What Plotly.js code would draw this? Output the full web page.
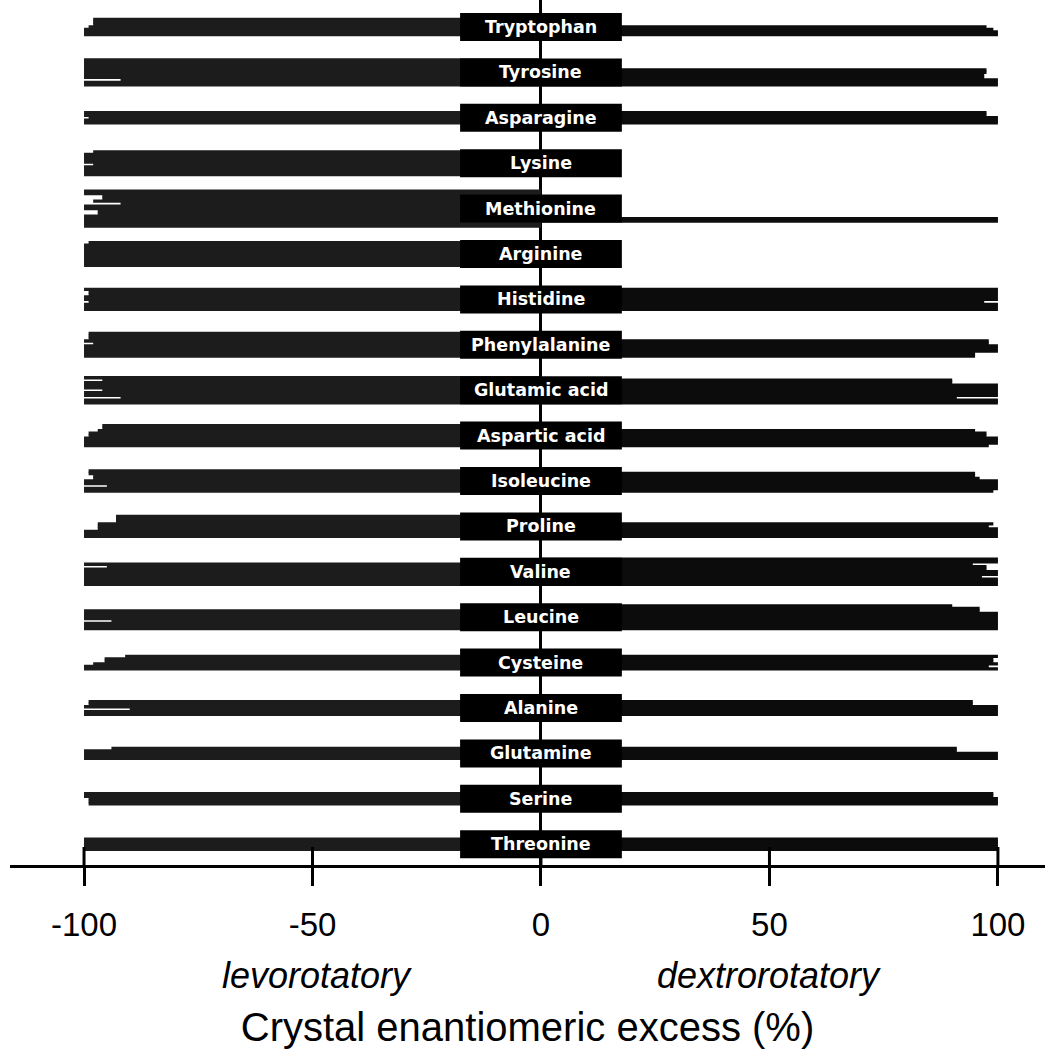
<!DOCTYPE html>
<html><head><meta charset="utf-8">
<script src="https://cdn.plot.ly/plotly-3.0.1.min.js"></script>
<style>html,body{margin:0;padding:0;background:#fff}#chart{width:1059px;height:1049px}</style>
</head><body><div id="chart"></div>
<script>
// ---- data (one bar per crystal, top to bottom within each amino acid) ----
const aminoAcids = ["Tryptophan","Tyrosine","Asparagine","Lysine","Methionine","Arginine",
  "Histidine","Phenylalanine","Glutamic acid","Aspartic acid","Isoleucine","Proline",
  "Valine","Leucine","Cysteine","Alanine","Glutamine","Serine","Threonine"];

const trpL = [-98,-98,-98,-99,-100,-100,-100];
const trpR = [97.5,99,100,100];
const tyrL = [-100,-100,-100,-100,-100,-100,-100,-100,-92,-100,-100];
const tyrR = [97.5,97.5,97,97,100,100,100];
const asnL = [-100,-100,-99,-100,-100];
const asnR = [97.5,97.5,100,100,100];
const lysL = [-98,-100,-100,-100,-100,-98,-100,-100,-100,-100];
const lysR = [];
const metL = [-100,-100,-96,-96,-98,-92,-100,-100,-97,-97,-100,-100,-100,-100,-100];
const metR = [100,100,null,null];
const argL = [-99,-100,-100,-100,-100,-100,-100,-100,-100,-100];
const argR = [];
const hisL = [-100,-99,-99,-100,-100,-99,-100,-100,-100];
const hisR = [100,100,100,100,100,97,100,100,100];
const pheL = [-99,-99,-99,-100,-98,-100,-100,-100,-100,-100];
const pheR = [98,98,100,100,100,95,95];
const gluL = [-100,-96,-100,-100,-100,-96,-100,-100,-92,-100,-100];
const gluR = [90,90,100,100,100,100,100,91,100,100];
const aspL = [-96,-96,-97,-99,-99,-100,-100,-100,-100];
const aspR = [95,97.5,97.5,100,100,100,98];
const ileL = [-99,-99,-98,-98,-100,-100,-95,-100,-100];
const ileR = [95,95,96,100,100,100,100,99];
const proL = [-93,-93,-93,-97,-97,-97,-100,-100,-100];
const proR = [99,98,100,100,100,100];
const valL = [-100,-95,-100,-100,-100,-100,-100,-100,-100];
const valR = [100,100,94.5,97.5,97.5,100,100,96.5,100,100,100];
const leuL = [-100,-100,-100,-100,-94,-100,-100,-100];
const leuR = [90,96,96,100,100,100,100,100,100,100];
const cysL = [-91,-95.5,-95.5,-98,-100,-100];
const cysR = [100,99,99,100,98,100];
const alaL = [-99,-99,-100,-90,-100,-100];
const alaR = [94.5,94.5,100,100,100,100];
const glnL = [-94,-100,-100,-100,-100];
const glnR = [91,91,100,100,100];
const serL = [-100,-100,-99,-99,-99];
const serR = [99,99,100,100,100];
const thrL = [-100,-100,-100,-100,-100];
const thrR = [100,100,100,100,100];

const levo   = [trpL,tyrL,asnL,lysL,metL,argL,hisL,pheL,gluL,aspL,ileL,proL,valL,leuL,cysL,alaL,glnL,serL,thrL];
const dextro = [trpR,tyrR,asnR,lysR,metR,argR,hisR,pheR,gluR,aspR,ileR,proR,valR,leuR,cysR,alaR,glnR,serR,thrR];

const tickVals = [-100,-50,0,50,100];
const tickText = ["-100","-50","0","50","100"];
const sideLabels = ["levorotatory","dextrorotatory"];
const sideLabelX = [-49,50];
const axisTitle = "Crystal enantiomeric excess (%)";

// ---- layout constants (style) ----
const TOP = 27, STEP = 45.4, ROWH = 2.5, PLOT_H = 865, TICK_LEN = 18;
const BOX_HALF_W = 17.7, BOX_H = 28;

const yL=[], xL=[], yR=[], xR=[];
const shapes = [], annotations = [];
aminoAcids.forEach((name,i)=>{
  const c = TOP + i*STEP;
  const n = Math.max(levo[i].length, dextro[i].length);
  const bottom = c + n*ROWH/2;
  levo[i].forEach((v,j)=>{ xL.push(v); yL.push(bottom - (levo[i].length - j - 0.5)*ROWH); });
  dextro[i].forEach((v,j)=>{ xR.push(v); yR.push(bottom - (dextro[i].length - j - 0.5)*ROWH); });
  shapes.push({type:'rect', xref:'x', yref:'y', x0:-BOX_HALF_W, x1:BOX_HALF_W,
    y0:c-BOX_H/2, y1:c+BOX_H/2, fillcolor:'#000', line:{width:0}, layer:'above'});
  annotations.push({x:0, y:c, xref:'x', yref:'y', text:name, showarrow:false,
    xanchor:'center', yanchor:'middle',
    font:{family:'DejaVu Sans, sans-serif', size:17.5, color:'#fff', weight:'bold'}});
});
sideLabels.forEach((t,k)=>{
  annotations.push({x:sideLabelX[k], xref:'x', y:0, yref:'paper', yshift:-110,
    text:t, showarrow:false, xanchor:'center', yanchor:'middle',
    font:{family:'Liberation Sans, Arial, sans-serif', size:36, style:'italic', color:'#000'}});
});

// upward half of the crossing tick marks, at the tick values
const upX = [], upY = [];
tickVals.forEach(v=>{ upX.push(v, v, null); upY.push(PLOT_H, PLOT_H - TICK_LEN, null); });

const traces = [
  {type:'bar', orientation:'h', x:xL, y:yL, width:ROWH+0.9, name:'levorotatory',
   marker:{color:'#1c1c1c', line:{width:0}}, hoverinfo:'skip'},
  {type:'bar', orientation:'h', x:xR, y:yR, width:ROWH+0.9, name:'dextrorotatory',
   marker:{color:'#0c0c0c', line:{width:0}}, hoverinfo:'skip'},
  {type:'scatter', mode:'lines', x:upX, y:upY, line:{color:'#000', width:3},
   cliponaxis:false, showlegend:false, hoverinfo:'skip'}
];

const layout = {
  width:1059, height:1049,
  margin:{l:10, r:14, t:0, b:1049-PLOT_H, pad:0},
  paper_bgcolor:'#fff', plot_bgcolor:'#fff',
  showlegend:false, barmode:'overlay',
  font:{family:'Liberation Sans, Arial, sans-serif', color:'#000'},
  xaxis:{range:[-116.2,110.3], tickvals:tickVals, ticktext:tickText,
    ticks:'outside', ticklen:TICK_LEN, tickwidth:3, tickcolor:'#000',
    showline:true, linewidth:3, linecolor:'#000', showgrid:false,
    zeroline:true, zerolinecolor:'#000', zerolinewidth:3,
    tickfont:{size:33, color:'#000'}, ticklabelstandoff:10,
    title:{text:axisTitle, font:{size:40, color:'#000'}, standoff:74}},
  yaxis:{range:[PLOT_H,0], visible:false, showgrid:false, zeroline:false},
  shapes:shapes, annotations:annotations
};
Plotly.newPlot('chart', traces, layout, {displayModeBar:false, staticPlot:true});
</script></body></html>
